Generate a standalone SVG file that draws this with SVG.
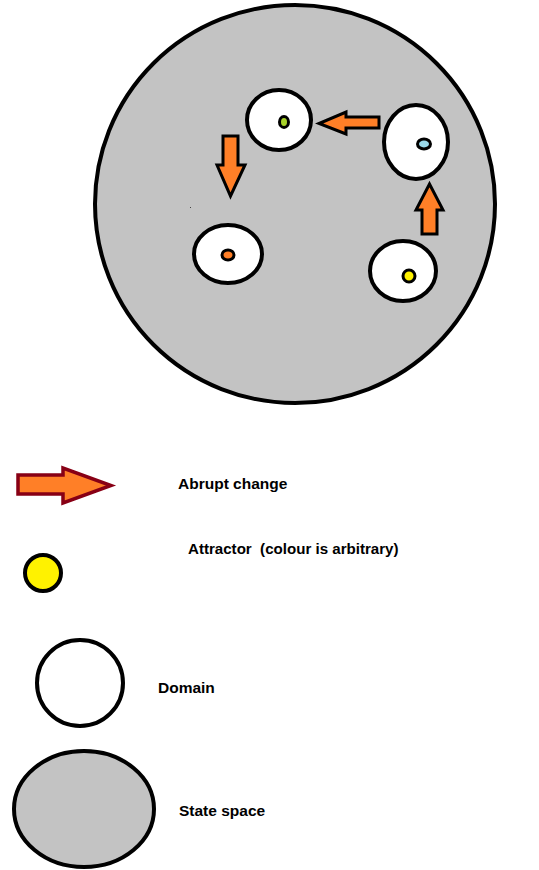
<svg xmlns="http://www.w3.org/2000/svg" width="539" height="870" viewBox="0 0 539 870">
<style>
.space{fill:#c3c3c3;stroke:#000;stroke-width:4}
.domain{fill:#fff;stroke:#000;stroke-width:4}
.attr{stroke:#000;stroke-width:3}
.arrow{fill:#ff7f27;stroke:#000;stroke-width:3;stroke-linejoin:miter}
.lab{font-family:"Liberation Sans",Arial,sans-serif;font-weight:bold;font-size:15.5px;fill:#000;white-space:pre}
</style>
<rect width="539" height="870" fill="#fff"/>
<g id="state-space">
<ellipse class="space" cx="295" cy="204" rx="200" ry="199"/>
<rect x="190" y="207" width="1" height="1" fill="#444"/>
</g>
<g id="domain-green">
<ellipse class="domain" cx="279" cy="120" rx="32" ry="30"/>
<ellipse class="attr" cx="284" cy="122" rx="4.5" ry="5.5" fill="#a8d22a"/>
</g>
<g id="domain-blue">
<ellipse class="domain" cx="416" cy="142" rx="32" ry="37"/>
<ellipse class="attr" cx="424" cy="144" rx="6.5" ry="5" fill="#99d9ea"/>
</g>
<g id="domain-orange">
<ellipse class="domain" cx="228" cy="254" rx="34" ry="29"/>
<ellipse class="attr" cx="228" cy="255" rx="6" ry="5" fill="#ff7f27"/>
</g>
<g id="domain-yellow">
<ellipse class="domain" cx="403" cy="271" rx="33" ry="30"/>
<ellipse class="attr" cx="409" cy="276" rx="6" ry="6" fill="#fff200"/>
</g>
<g id="connectors">
<polygon class="arrow" points="379,117 346,117 346,112 319,123.5 346,134 346,128 379,128"/>
<polygon class="arrow" points="223,136 238,136 238,165 245,165 230.5,196 217,165 223,165"/>
<polygon class="arrow" points="422,234 437,234 437,210 443,210 429.5,184 416,210 422,210"/>
</g>
<g id="legend-arrow">
<polygon points="18,475 63,475 63,468 111,485.5 63,503 63,494 18,494" fill="#ff7f27" stroke="#880015" stroke-width="3.5"/>
<text class="lab" x="178" y="489">Abrupt change</text>
</g>
<g id="legend-attractor">
<circle cx="43" cy="573" r="18" fill="#fff200" stroke="#000" stroke-width="4"/>
<text class="lab" x="188" y="554" style="font-size:15.1px" xml:space="preserve">Attractor  (colour is arbitrary)</text>
</g>
<g id="legend-domain">
<ellipse cx="80" cy="683" rx="43" ry="43" fill="#fff" stroke="#000" stroke-width="4"/>
<text class="lab" x="158" y="693">Domain</text>
</g>
<g id="legend-state-space">
<ellipse cx="84" cy="809" rx="70" ry="58" fill="#c3c3c3" stroke="#000" stroke-width="4"/>
<text class="lab" x="179" y="816">State space</text>
</g>
</svg>
